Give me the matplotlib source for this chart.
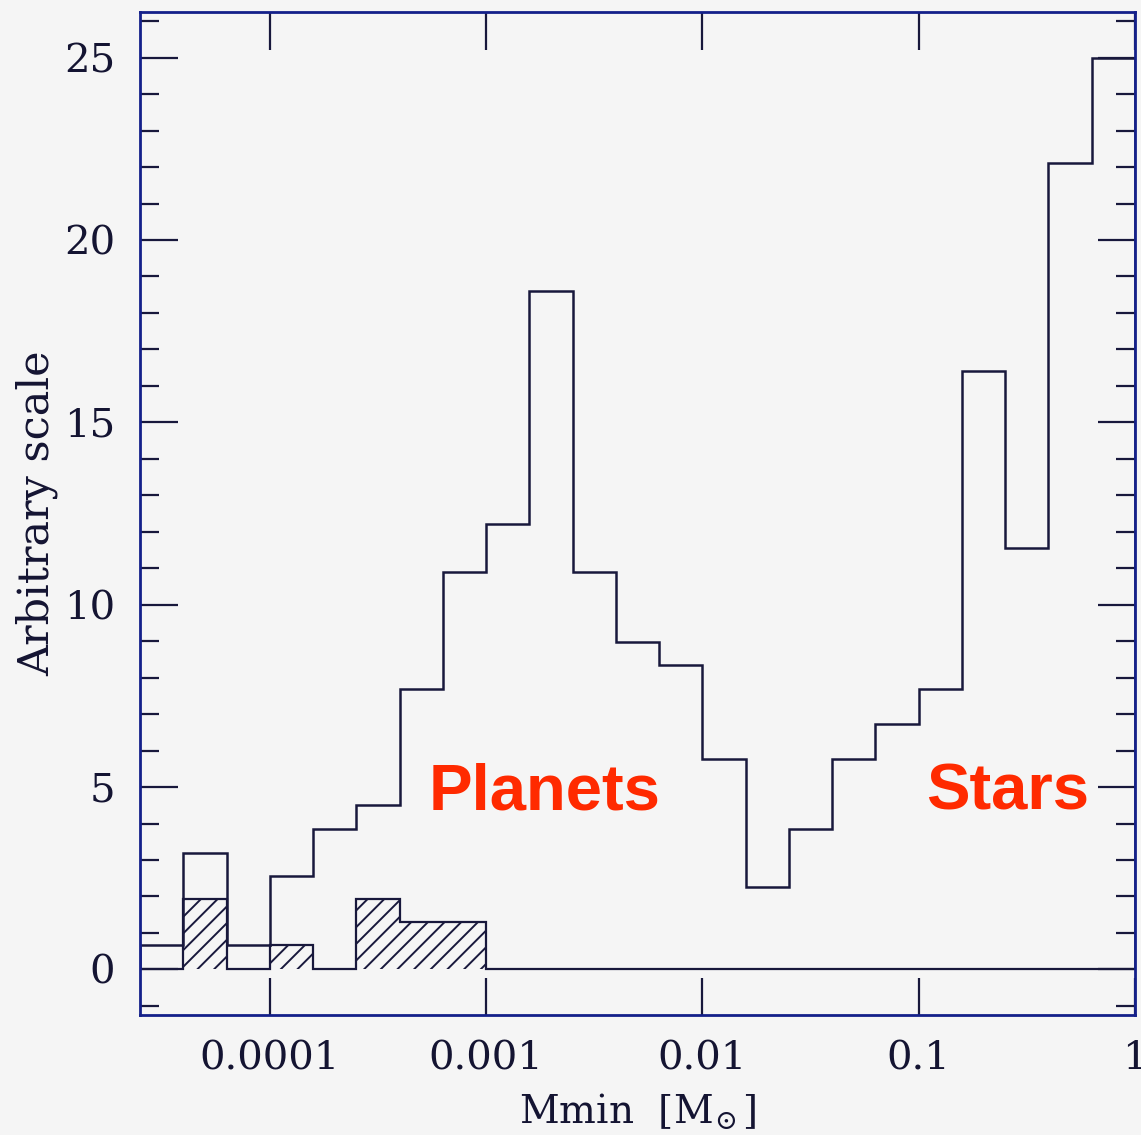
import numpy as np
import matplotlib.pyplot as plt
from matplotlib.ticker import FixedLocator, FixedFormatter, MultipleLocator, NullLocator

# Histogram bins: 0.2 dex wide, from 10^-4.6 to 10^0 solar masses
log_edges = np.round(np.arange(-4.6, 0.01, 0.2), 1)
edges = 10.0 ** log_edges

# All companions (open histogram)
all_counts = [0.66, 3.2, 0.66, 2.57, 3.86, 4.52, 7.69, 10.9, 12.2, 18.6, 10.9,
              8.98, 8.35, 5.78, 2.27, 3.86, 5.78, 6.74, 7.69, 16.4, 11.55, 22.1, 25.0]
# Hatched subsample
sub_counts = [0, 1.92, 0, 0.66, 0, 1.92, 1.29, 1.29, 0, 0, 0,
              0, 0, 0, 0, 0, 0, 0, 0, 0, 0, 0, 0]

x_ticks = [1e-4, 1e-3, 1e-2, 1e-1, 1.0]
x_labels = ['0.0001', '0.001', '0.01', '0.1', '1']

line_col = '#18183c'
frame_col = '#14208a'
text_col = '#141432'
bg = '#f5f5f5'

plt.rcParams['mathtext.fontset'] = 'dejavuserif'
plt.rcParams['hatch.linewidth'] = 1.4
plt.rcParams['hatch.color'] = line_col

fig = plt.figure(figsize=(11.41, 11.35), dpi=100, facecolor=bg)
ax = fig.add_axes([0.1227, 0.1057, 0.8720, 0.8837], facecolor=bg)

ax.stairs(sub_counts, edges, baseline=0, fill=True, facecolor='none',
          edgecolor=line_col, hatch='//', linewidth=1.6)
ax.stairs(all_counts, edges, baseline=0, fill=False, color=line_col, linewidth=1.8)

ax.set_xscale('log')
ax.set_xlim(edges[0], edges[-1])
ax.set_ylim(-1.25, 26.25)

ax.xaxis.set_major_locator(FixedLocator(x_ticks))
ax.xaxis.set_major_formatter(FixedFormatter(x_labels))
ax.xaxis.set_minor_locator(NullLocator())
ax.yaxis.set_major_locator(MultipleLocator(5))
ax.yaxis.set_minor_locator(MultipleLocator(1))

ax.tick_params(which='both', direction='in', top=True, right=True,
               color=line_col, width=1.6)
ax.tick_params(which='major', length=27, pad=18, labelsize=29,
               labelcolor=text_col, labelfontfamily='DejaVu Serif')
ax.tick_params(which='minor', length=14)
for s in ax.spines.values():
    s.set_color(frame_col)
    s.set_linewidth(2)

ax.set_xlabel(r'Mmin  [$\mathrm{M}_{\!\odot}$]', fontsize=28, family='DejaVu Serif',
              color=text_col, labelpad=10)
ax.set_ylabel('Arbitrary scale', fontsize=31, family='DejaVu Serif',
              color=text_col, labelpad=4)

ax.text(10 ** -2.73, 4.85, 'Planets', color='#ff2a00', fontsize=47,
        fontweight='bold', family='Liberation Sans', ha='center', va='center')
ax.text(10 ** -0.587, 4.85, 'Stars', color='#ff2a00', fontsize=47,
        fontweight='bold', family='Liberation Sans', ha='center', va='center')

fig.savefig('out.png', dpi=100, facecolor=bg)
